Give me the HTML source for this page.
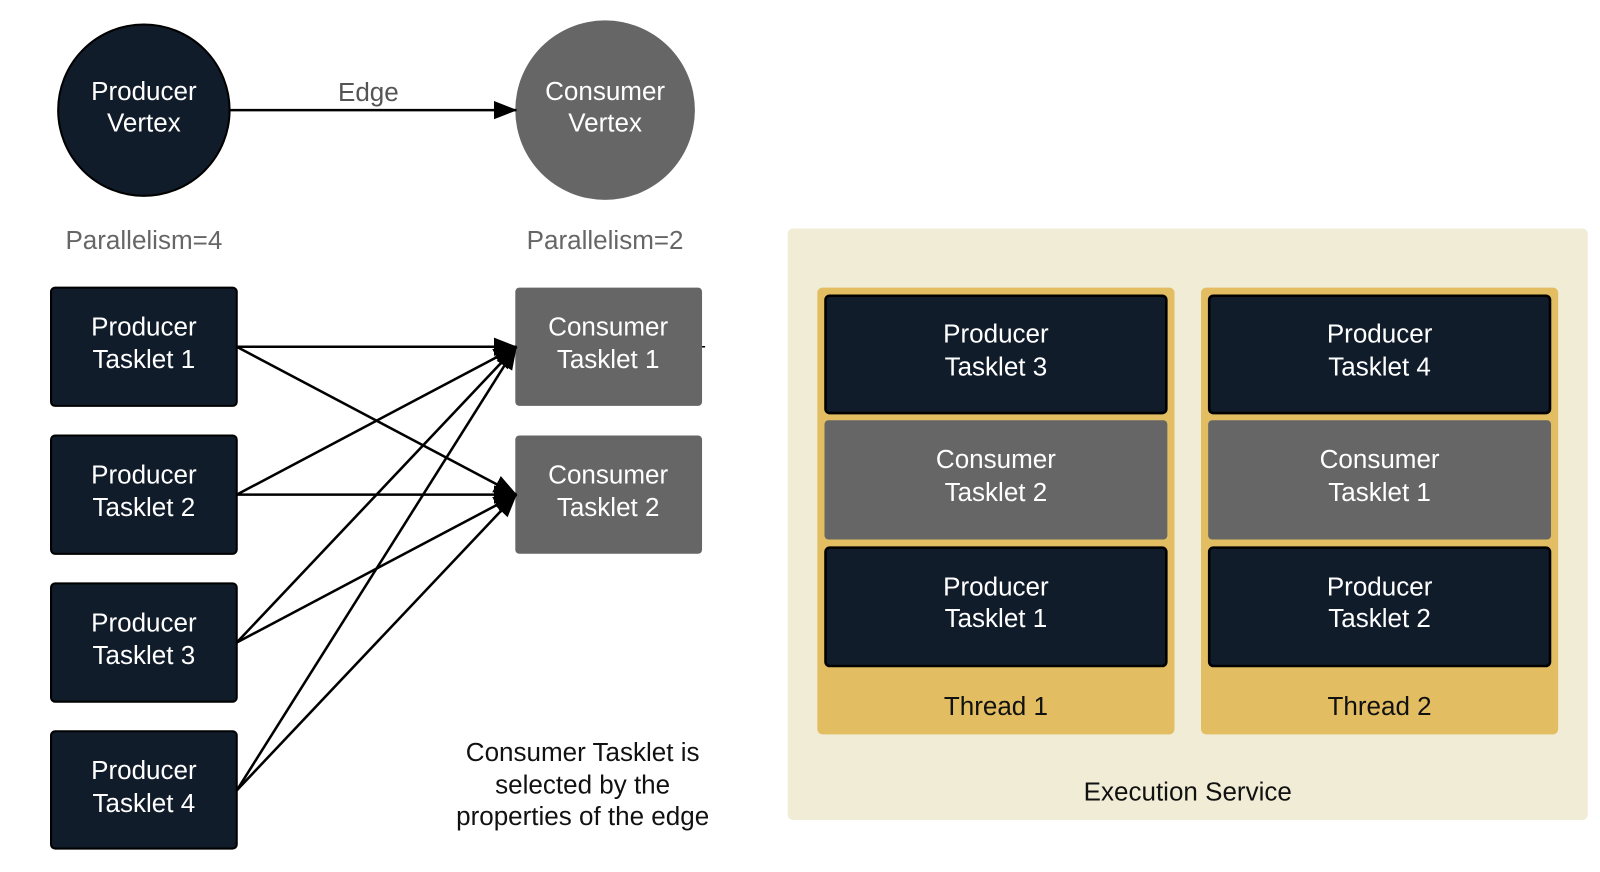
<!DOCTYPE html>
<html><head><meta charset="utf-8"><style>
html,body{margin:0;padding:0;background:#fff;}
svg{display:block;}
text{font-family:"Liberation Sans",sans-serif;font-size:25.5px;text-anchor:middle;}
</style></head><body>
<svg width="1600" height="872" viewBox="0 0 1568 855" preserveAspectRatio="none" xmlns="http://www.w3.org/2000/svg">
<defs>
<marker id="ah" markerWidth="24" markerHeight="20" refX="22" refY="9" orient="auto" markerUnits="userSpaceOnUse">
<path d="M0,0 L23,9 L0,18 Z" fill="#000"/>
</marker>
</defs>
<rect width="1568" height="855" fill="#fff"/>
<circle cx="141" cy="108" r="84" fill="#111c2b" stroke="#000" stroke-width="2"/>
<text x="141" y="98" fill="#fff">Producer</text>
<text x="141" y="129" fill="#fff">Vertex</text>
<circle cx="593" cy="108" r="88" fill="#666"/>
<text x="593" y="98" fill="#fff">Consumer</text>
<text x="593" y="129" fill="#fff">Vertex</text>
<line x1="225" y1="108" x2="506" y2="108" stroke="#000" stroke-width="2.5" marker-end="url(#ah)"/>
<text x="361" y="99" fill="#555">Edge</text>
<text x="141" y="244" fill="#666">Parallelism=4</text>
<text x="593" y="244" fill="#666">Parallelism=2</text>
<g fill="#111c2b" stroke="#000" stroke-width="2">
<rect x="50" y="282" width="182" height="116" rx="4"/>
<rect x="50" y="427" width="182" height="116" rx="4"/>
<rect x="50" y="572" width="182" height="116" rx="4"/>
<rect x="50" y="717" width="182" height="115" rx="4"/>
</g>
<g fill="#fff">
<text x="141" y="329">Producer</text><text x="141" y="361">Tasklet 1</text>
<text x="141" y="474">Producer</text><text x="141" y="506">Tasklet 2</text>
<text x="141" y="619">Producer</text><text x="141" y="651">Tasklet 3</text>
<text x="141" y="764">Producer</text><text x="141" y="796">Tasklet 4</text>
</g>
<rect x="505" y="282" width="183" height="116" rx="4" fill="#666"/>
<rect x="505" y="427" width="183" height="116" rx="4" fill="#666"/>
<line x1="688" y1="340" x2="691" y2="340" stroke="#000" stroke-width="1.5"/>
<g fill="#fff">
<text x="596" y="329">Consumer</text><text x="596" y="361">Tasklet 1</text>
<text x="596" y="474">Consumer</text><text x="596" y="506">Tasklet 2</text>
</g>
<g stroke="#000" stroke-width="2.5" fill="none" marker-end="url(#ah)">
<line x1="232" y1="340" x2="506" y2="340"/>
<line x1="232" y1="340" x2="506" y2="485"/>
<line x1="232" y1="485" x2="506" y2="340"/>
<line x1="232" y1="485" x2="506" y2="485"/>
<line x1="232" y1="630" x2="506" y2="340"/>
<line x1="232" y1="630" x2="506" y2="485"/>
<line x1="232" y1="775" x2="506" y2="340"/>
<line x1="232" y1="775" x2="506" y2="485"/>
</g>
<g fill="#111">
<text x="571" y="746">Consumer Tasklet is</text>
<text x="571" y="778">selected by the</text>
<text x="571" y="809">properties of the edge</text>
</g>
<rect x="772" y="224" width="784" height="580" rx="5" fill="#f0ecd6"/>
<rect x="801" y="282" width="350" height="438" rx="5" fill="#e2bd62"/>
<rect x="1177" y="282" width="350" height="438" rx="5" fill="#e2bd62"/>
<g stroke="#000" stroke-width="2.5" fill="#111c2b">
<rect x="809" y="290" width="334" height="115" rx="4"/>
<rect x="809" y="537" width="334" height="116" rx="4"/>
<rect x="1185" y="290" width="334" height="115" rx="4"/>
<rect x="1185" y="537" width="334" height="116" rx="4"/>
</g>
<rect x="808" y="412" width="336" height="117" rx="4" fill="#666"/>
<rect x="1184" y="412" width="336" height="117" rx="4" fill="#666"/>
<g fill="#fff">
<text x="976" y="336">Producer</text><text x="976" y="368">Tasklet 3</text>
<text x="976" y="459">Consumer</text><text x="976" y="491">Tasklet 2</text>
<text x="976" y="584">Producer</text><text x="976" y="615">Tasklet 1</text>
<text x="1352" y="336">Producer</text><text x="1352" y="368">Tasklet 4</text>
<text x="1352" y="459">Consumer</text><text x="1352" y="491">Tasklet 1</text>
<text x="1352" y="584">Producer</text><text x="1352" y="615">Tasklet 2</text>
</g>
<g fill="#111">
<text x="976" y="701">Thread 1</text>
<text x="1352" y="701">Thread 2</text>
<text x="1164" y="785">Execution Service</text>
</g>
</svg>
</body></html>
